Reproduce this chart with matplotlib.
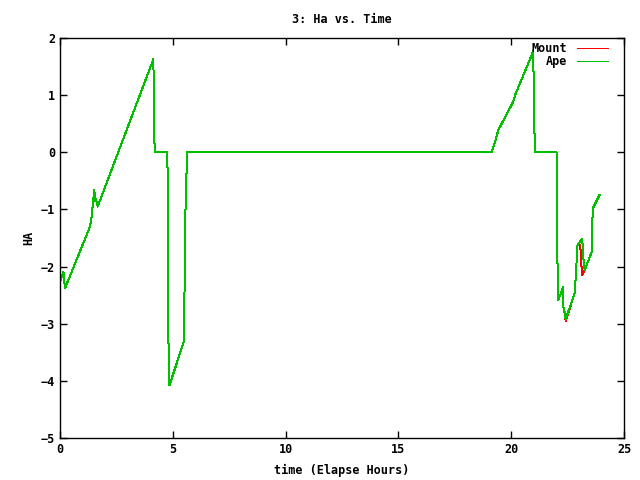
import matplotlib
matplotlib.use("Agg")
import matplotlib.pyplot as plt

# elapsed hours / hour angle
ape_t = [0.0, 0.15, 0.22, 1.33, 1.40, 1.52, 1.56, 1.60, 1.67, 4.14, 4.15, 4.17, 4.20, 4.76, 4.78, 4.80, 4.83, 4.85, 5.51, 5.52, 5.57, 5.60, 5.64,
         19.13, 19.27, 19.43, 20.09, 20.17, 20.91, 20.98, 20.99, 21.02, 21.07, 22.01, 22.02, 22.05, 22.09, 22.31, 22.32, 22.39, 22.41,
         22.83, 22.85, 22.91, 22.94, 23.15, 23.18, 23.22, 23.26, 23.57, 23.58, 23.62, 23.91]
ape_ha = [-2.27, -2.09, -2.38, -1.30, -1.13, -0.66, -0.85, -0.82, -0.95, 1.63, 1.22, 0.42, 0.0, 0.0, -1.04, -3.05, -4.0, -4.08, -3.29, -2.32, -0.78, -0.45, 0.0,
          0.0, 0.16, 0.39, 0.885, 1.0, 1.70, 1.78, 1.35, 0.45, 0.0, 0.0, -0.63, -1.91, -2.585, -2.35, -2.79, -2.79, -2.93,
          -2.44, -2.25, -1.83, -1.62, -1.51, -1.77, -1.94, -2.06, -1.74, -1.37, -0.98, -0.75]

mount_t = [0.0, 0.15, 0.22, 1.33, 1.40, 1.52, 1.56, 1.60, 1.67, 4.14, 4.15, 4.17, 4.20, 4.76, 4.78, 4.80, 4.83, 4.85, 5.51, 5.52, 5.57, 5.60, 5.64,
           19.13, 19.27, 19.43, 20.09, 20.17, 20.91, 20.98, 20.99, 21.02, 21.07, 22.01, 22.02, 22.05, 22.09, 22.31, 22.32, 22.39, 22.41,
           22.83, 22.85, 22.91, 22.94, 23.06, 23.11, 23.15, 23.26, 23.57, 23.58, 23.62, 23.91]
mount_ha = [-2.27, -2.09, -2.38, -1.30, -1.13, -0.66, -0.85, -0.82, -0.95, 1.63, 1.22, 0.42, 0.0, 0.0, -1.04, -3.05, -4.0, -4.08, -3.29, -2.32, -0.78, -0.45, 0.0,
            0.0, 0.16, 0.39, 0.885, 1.0, 1.70, 1.78, 1.35, 0.45, 0.0, 0.0, -0.63, -1.91, -2.585, -2.35, -2.79, -2.79, -2.96,
            -2.44, -2.25, -1.83, -1.62, -1.62, -1.97, -2.15, -2.06, -1.74, -1.37, -0.98, -0.75]

x_ticks = [0, 5, 10, 15, 20, 25]
y_ticks = [-5, -4, -3, -2, -1, 0, 1, 2]

plt.rcParams['font.family'] = 'DejaVu Sans Mono'
plt.rcParams['font.weight'] = 'bold'
plt.rcParams['font.size'] = 8.5

fig = plt.figure(figsize=(6.4, 4.8), dpi=100)
ax = fig.add_axes([60/640, 1 - 438/480, 564/640, 400/480])

ax.plot(mount_t, mount_ha, color='#ff0000', lw=0.72, antialiased=False, label='Mount')
ax.plot(ape_t, ape_ha, color='#00c000', lw=0.72, antialiased=False, label='Ape')

ax.set_xlim(0, 25)
ax.set_ylim(-5, 2)
ax.set_xticks(x_ticks)
ax.set_yticks(y_ticks)
ax.tick_params(direction='in', top=True, right=True, length=5, width=1, labelsize=8.5)
for s in ax.spines.values():
    s.set_linewidth(1)

ax.set_title('3: Ha vs. Time', fontsize=8.5, fontweight='bold', pad=11)
ax.set_xlabel('time (Elapse Hours)', fontsize=8.5, fontweight='bold', labelpad=6)
ax.set_ylabel('HA', fontsize=8.5, fontweight='bold', labelpad=4)

ax.legend(loc='upper right', bbox_to_anchor=((608 - 60) / 564, (438 - 42) / 400),
          frameon=False, markerfirst=False, handlelength=2.6, borderaxespad=0, borderpad=0,
          labelspacing=0.0, handletextpad=0.85, fontsize=8.5)

fig.savefig('out.png', dpi=100)
